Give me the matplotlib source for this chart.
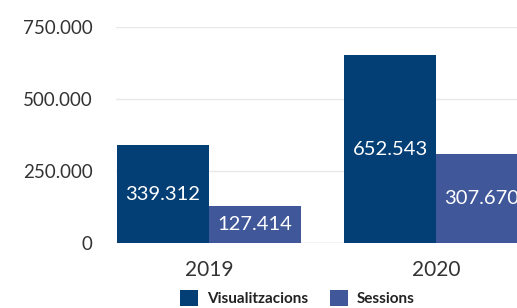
import matplotlib
import matplotlib.pyplot as plt
import numpy as np
from matplotlib.ticker import FuncFormatter

matplotlib.use("Agg")
plt.rcParams["font.family"] = ["Lato", "DejaVu Sans"]

# Dades
anys = ["2019", "2020"]
visualitzacions = [339312, 652543]
sessions = [127414, 307670]
y_ticks = [0, 250000, 500000, 750000]

col_vis = "#033f75"
col_ses = "#40579a"


def punts(v):
    # format amb punt com a separador de milers
    return f"{int(v):,}".replace(",", ".")


fig = plt.figure(figsize=(5.17, 3.08), dpi=100)
ax = fig.add_axes([116 / 517, 65 / 308, (517 - 116) / 517, (243 - 27) / 308])

x = np.arange(len(anys))
w = 0.405
b1 = ax.bar(x - w / 2, visualitzacions, w, color=col_vis, label="Visualitzacions", zorder=3)
b2 = ax.bar(x + w / 2, sessions, w, color=col_ses, label="Sessions", zorder=3)

for bars in (b1, b2):
    for r in bars:
        h = r.get_height()
        ax.text(r.get_x() + r.get_width() / 2, h / 2, punts(h), ha="center", va="center",
                color="white", fontsize=14.5, zorder=4)

ax.set_xlim(-0.41, 1.357)
ax.set_ylim(0, 750000)
ax.set_yticks(y_ticks)
ax.yaxis.set_major_formatter(FuncFormatter(lambda v, p: punts(v)))
ax.set_xticks(x)
ax.set_xticklabels(anys)
ax.tick_params(axis="both", length=0, labelsize=15, colors="#333333")
ax.tick_params(axis="y", pad=17, labelsize=13.5)
ax.tick_params(axis="x", pad=12)
ax.grid(axis="y", color="#e8e8e8", linewidth=1, zorder=0)
ax.set_axisbelow(True)
for s in ax.spines.values():
    s.set_visible(False)
ax.axhline(0, color="#e0e0e0", linewidth=1, zorder=2)

fig.legend(handles=[b1, b2], loc="center", bbox_to_anchor=(0.575, 0.032), ncol=2, frameon=False,
           prop={"weight": "bold", "size": 11}, handlelength=1.2, handleheight=1.2,
           columnspacing=1.4, handletextpad=0.6, labelcolor="#222222")

fig.savefig("out.png", dpi=100)
